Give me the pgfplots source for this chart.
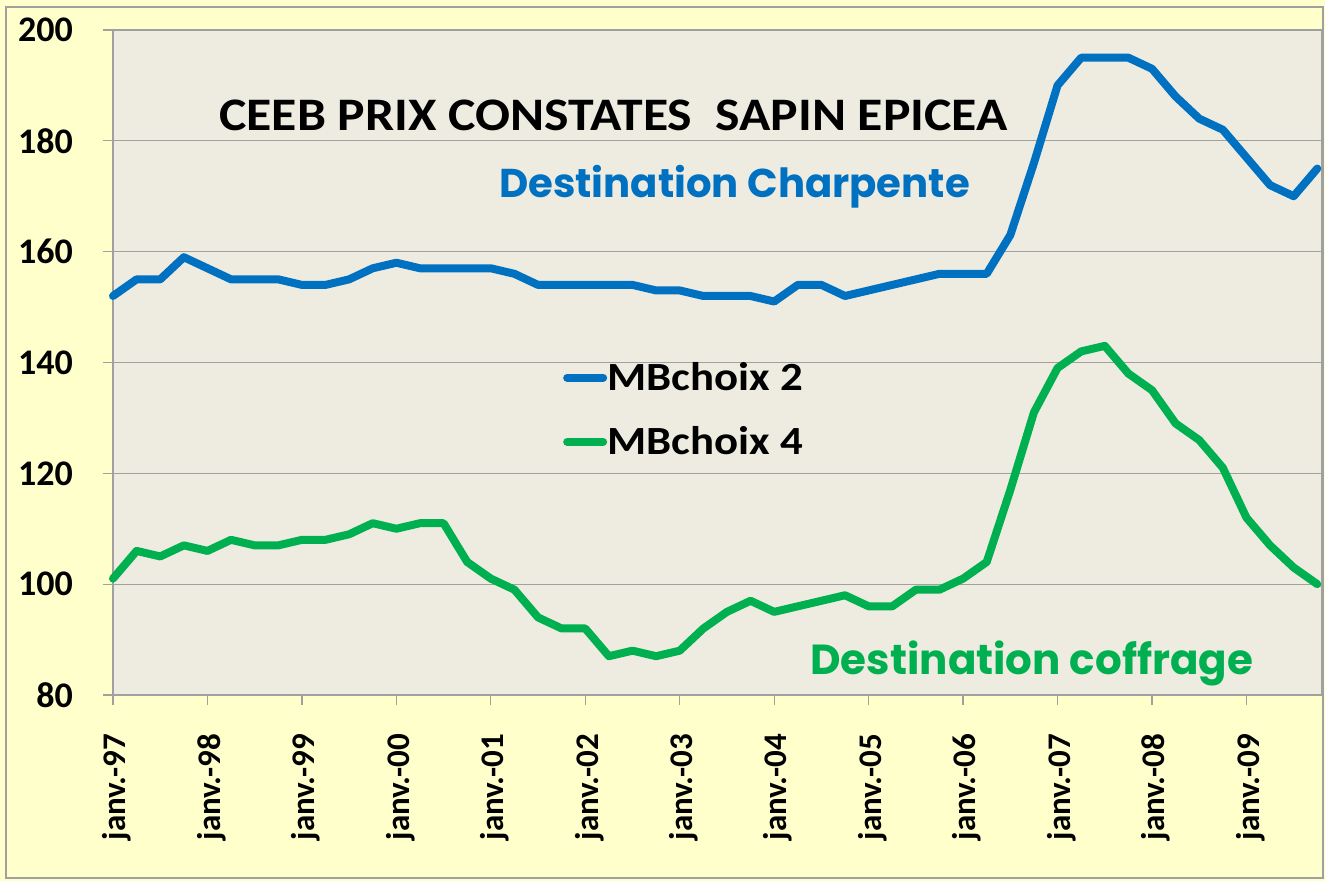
\documentclass[border=0pt]{standalone}
\usepackage{fontspec}
\setmainfont{Carlito}
\newfontfamily\titlefont{Carlito}[FakeStretch=1.11]
\newfontfamily\legfont{Carlito}[FakeStretch=1.12]
\newfontfamily\comic{Poppins}
\usepackage{pgfplots}
\pgfplotsset{compat=1.18}
\definecolor{bgyellow}{HTML}{FFFFCC}
\definecolor{plotbg}{HTML}{EEECE1}
\definecolor{gridgray}{HTML}{A0A0A0}
\definecolor{blueline}{HTML}{0070C0}
\definecolor{greenline}{HTML}{00B050}
\begin{document}
\begin{tikzpicture}[x=1pt,y=1pt]
\fill[bgyellow] (0,0) rectangle (662.5,440.5);
\draw[gridgray, line width=0.6pt] (3,1.5) rectangle (661.5,437);
\useasboundingbox (0,0) rectangle (662.5,440.5);
\begin{axis}[
 at={(56.5pt,93pt)}, anchor=south west,
 scale only axis, width=604.5pt, height=332.5pt,
 xmin=0, xmax=51.2, ymin=80, ymax=200,
 clip=false,
 axis background/.style={fill=plotbg},
 axis line style={gridgray, line width=0.6pt},
 ymajorgrids, grid style={gridgray, line width=0.6pt},
 ytick={80,100,...,200},
 xtick={0,4,...,48},
 xticklabels={janv.-97,janv.-98,janv.-99,janv.-00,janv.-01,janv.-02,janv.-03,janv.-04,janv.-05,janv.-06,janv.-07,janv.-08,janv.-09},
 tick align=outside, tick pos=left,
 major tick length=5pt,
 tick style={gridgray, line width=0.6pt},
 /pgf/number format/assume math mode=true,
 yticklabel style={font=\fontsize{18}{20}\selectfont\bfseries, xshift=-11.5pt},
 xticklabel style={font=\fontsize{16.5}{18}\selectfont\bfseries, yshift=-11pt, xshift=2pt, rotate=90, anchor=east},
 legend style={draw=none, fill=none, at={(0.372,0.507)}, anchor=north west,
   font=\legfont\fontsize{20}{24}\selectfont\bfseries, row sep=12.5pt, inner sep=0pt, column sep=-2pt},
 legend cell align=left,
 legend image code/.code={\draw[#1, line width=4pt, line cap=round] (0pt,0pt) -- (18pt,0pt);},
 line join=round,
]
\addplot[blueline, line width=4pt, line cap=round] coordinates {
(0,152)(1,155)(2,155)(3,159)(4,157)(5,155)(6,155)(7,155)(8,154)(9,154)
(10,155)(11,157)(12,158)(13,157)(14,157)(15,157)(16,157)(17,156)(18,154)(19,154)
(20,154)(21,154)(22,154)(23,153)(24,153)(25,152)(26,152)(27,152)(28,151)(29,154)
(30,154)(31,152)(32,153)(33,154)(34,155)(35,156)(36,156)(37,156)(38,163)(39,176)
(40,190)(41,195)(42,195)(43,195)(44,193)(45,188)(46,184)(47,182)(48,177)(49,172)
(50,170)(51,175)};
\addlegendentry{MBchoix 2}
\addplot[greenline, line width=4pt, line cap=round] coordinates {
(0,101)(1,106)(2,105)(3,107)(4,106)(5,108)(6,107)(7,107)(8,108)(9,108)
(10,109)(11,111)(12,110)(13,111)(14,111)(15,104)(16,101)(17,99)(18,94)(19,92)
(20,92)(21,87)(22,88)(23,87)(24,88)(25,92)(26,95)(27,97)(28,95)(29,96)
(30,97)(31,98)(32,96)(33,96)(34,99)(35,99)(36,101)(37,104)(38,117)(39,131)
(40,139)(41,142)(42,143)(43,138)(44,135)(45,129)(46,126)(47,121)(48,112)(49,107)
(50,103)(51,100)};
\addlegendentry{MBchoix 4}
\node[font=\titlefont\fontsize{23.3}{26}\selectfont\bfseries] at (rel axis cs:0.414,0.872) {CEEB PRIX CONSTATES\ \ SAPIN EPICEA};
\node[font=\comic\bfseries\fontsize{20.1}{24}\selectfont, text=blueline] at (rel axis cs:0.514,0.764) {Destination Charpente};
\node[font=\comic\bfseries\fontsize{21}{24}\selectfont, text=greenline] at (rel axis cs:0.760,0.048) {Destination coffrage};
\end{axis}
\end{tikzpicture}
\end{document}
